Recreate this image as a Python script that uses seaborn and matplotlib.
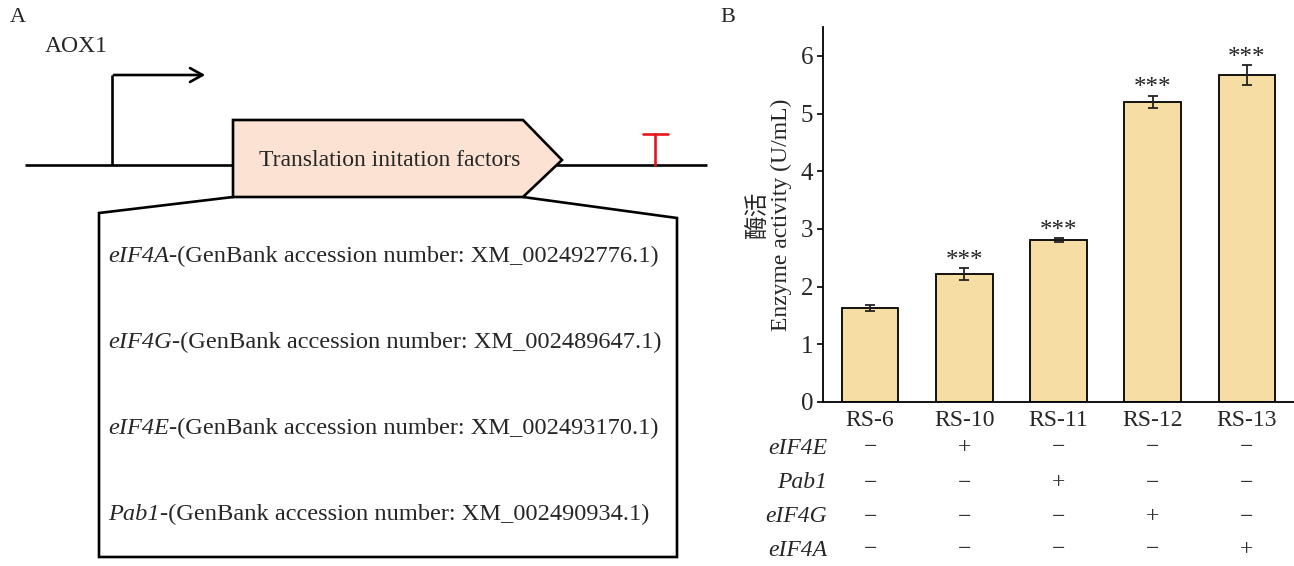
import numpy as np
import matplotlib
matplotlib.use("Agg")
import matplotlib.pyplot as plt
import matplotlib.transforms as mtransforms
from matplotlib.patches import Polygon, FancyArrowPatch
import seaborn as sns

# data for panel B
strains = ["RS-6", "RS-10", "RS-11", "RS-12", "RS-13"]
activity = [1.63, 2.22, 2.81, 5.20, 5.67]
activity_err = [0.06, 0.10, 0.03, 0.11, 0.17]
signif = ["", "***", "***", "***", "***"]

# overexpression table under the bars
factor_rows = ["eIF4E", "Pab1", "eIF4G", "eIF4A"]
factor_marks = [
    ["−", "+", "−", "−", "−"],
    ["−", "−", "+", "−", "−"],
    ["−", "−", "−", "+", "−"],
    ["−", "−", "−", "−", "+"],
]

# panel A text
gene_names = ["eIF4A", "eIF4G", "eIF4E", "Pab1"]
accessions = ["XM_002492776.1", "XM_002489647.1", "XM_002493170.1", "XM_002490934.1"]

sns.set_theme(style="white")
plt.rcParams["font.family"] = ["Liberation Serif", "Noto Sans CJK SC"]

W, H = 1294, 566
fig = plt.figure(figsize=(W / 100, H / 100), dpi=100)

# figure pixel transform (origin top-left)
px = mtransforms.Affine2D().scale(1 / W, -1 / H).translate(0, 1) + fig.transFigure

# ---------------- panel A : construct schematic ----------------
axa = fig.add_axes([0, 0, 1, 1])
axa.set_xlim(0, W)
axa.set_ylim(H, 0)
axa.axis("off")

lw = 1.9
axa.text(10, 18, "A", fontsize=16, va="center", ha="left")
axa.text(45, 47, "AOX1", fontsize=17, va="center", ha="left")

# backbone
axa.plot([25, 707], [165, 165], color="black", lw=lw, solid_capstyle="butt")
# promoter arrow
axa.plot([112, 112], [165, 75], color="black", lw=lw, solid_capstyle="butt")
axa.add_patch(FancyArrowPatch((111, 75), (208, 75), arrowstyle="->,head_length=9,head_width=5",
                              color="black", lw=lw, mutation_scale=1))
# gene box
gene = Polygon([[233, 120], [523, 120], [562, 160], [523, 197], [233, 197]],
               closed=True, facecolor="#FBE2D2", edgecolor="black", lw=lw, zorder=3)
axa.add_patch(gene)
axa.text(390, 160, "Translation initation factors", fontsize=17, ha="center", va="center", zorder=4)
# terminator
axa.plot([655, 655], [165, 134], color="#E8141B", lw=lw)
axa.plot([643, 668], [134, 134], color="#E8141B", lw=lw)

# expansion box
axa.plot([233, 99, 99, 677, 677, 523], [197, 213, 557, 557, 218, 197], color="black", lw=lw,
         solid_joinstyle="miter")
row_y = [262, 348, 434, 520]
for g, acc, y in zip(gene_names, accessions, row_y):
    t = axa.text(108, y, g, fontsize=17.6, style="italic", ha="left", va="baseline")
    axa.annotate("-(GenBank accession number: " + acc + ")", xy=(1, y),
                 xycoords=(t, "data"), fontsize=17.6, ha="left", va="baseline")

# ---------------- panel B : enzyme activity ----------------
fig.text(720, 18, "B", fontsize=16, va="center", ha="left", transform=px)

ax = fig.add_axes([823 / W, (H - 402) / H, (W - 823) / W, 375 / H])
sns.barplot(x=strains, y=activity, color="#F6DDA3", edgecolor="black", linewidth=1.3,
            width=0.6, saturation=1, ax=ax)
xs = np.arange(len(strains))
ax.errorbar(xs, activity, yerr=activity_err, fmt="none", ecolor="#222222", elinewidth=1.3,
            capsize=3.5, capthick=1.3)
for x, v, e, s in zip(xs, activity, activity_err, signif):
    if s:
        ax.annotate(s, (x, v + e), xytext=(0, 1), textcoords="offset points",
                    ha="center", va="baseline", fontsize=18, color="#222222")

ax.set_xlim(-0.5, 4.5)
ax.set_ylim(0, 6.5)
ax.set_yticks(range(0, 7))
sns.despine(ax=ax)
for sp in ["left", "bottom"]:
    ax.spines[sp].set_color("black")
    ax.spines[sp].set_linewidth(1.3)
ax.tick_params(axis="y", direction="out", length=4, width=1.2, color="black",
               labelsize=18, pad=3, left=True)
ax.tick_params(axis="x", length=0, labelsize=17, pad=6)
ax.set_xlabel("")
ax.set_ylabel("酶活\nEnzyme activity (U/mL)", fontsize=17, labelpad=6, linespacing=1.1)

# +/- table beneath the axis
tab = mtransforms.blended_transform_factory(ax.transData, px)
table_y = [448, 483, 517, 550]
for name, marks, y in zip(factor_rows, factor_marks, table_y):
    fig.text(827, y, name, fontsize=17, style="italic", ha="right", va="center", transform=px)
    for x, m in zip(xs, marks):
        ax.text(x, y, m, fontsize=17, ha="center", va="center", transform=tab,
                clip_on=False, color="#333333")

fig.savefig("out.png", dpi=100)
